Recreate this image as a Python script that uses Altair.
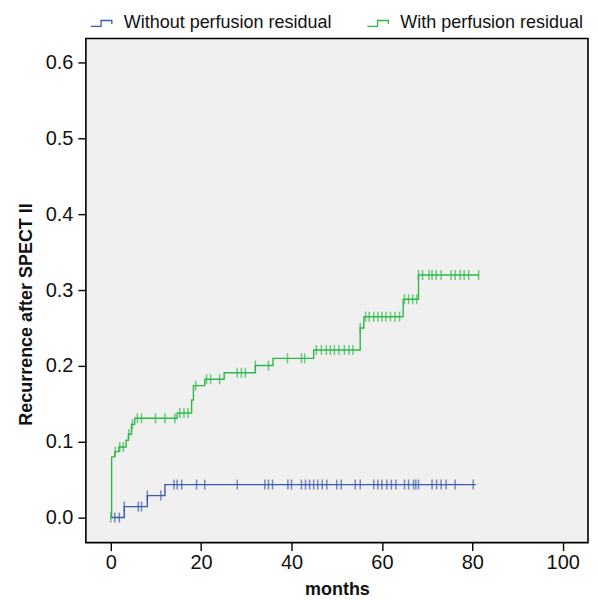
import altair as alt
import pandas as pd

series_names = ["Without perfusion residual", "With perfusion residual"]
series_colors = ["#3E58AC", "#2EB848"]

# Without perfusion residual (blue)
blue_step_t = [3.0, 8.1, 12.0]
blue_step_v = [0.0145, 0.029, 0.0435]
blue_end_t = 80.8
blue_censor_t = [0.9, 1.9, 3.0, 6.1, 6.8, 8.1, 11.1, 14.0, 14.7, 15.7, 19.0, 20.8, 28.0,
                 34.1, 34.9, 35.8, 39.2, 40.0, 42.2, 43.1, 44.0, 44.9, 45.8, 46.8, 47.8,
                 50.0, 51.0, 54.1, 55.2, 58.2, 59.1, 60.0, 61.1, 62.1, 63.1, 65.0, 65.9,
                 67.0, 67.5, 68.1, 71.1, 72.1, 73.1, 74.2, 76.2, 80.2]

# With perfusion residual (green)
green_step_t = [0.2, 0.9, 1.8, 3.4, 3.9, 4.6, 5.3, 14.7, 17.9, 18.3, 20.8, 25.1, 32.0,
                35.9, 44.9, 55.2, 56.0, 64.7, 68.1]
green_step_v = [0.080, 0.087, 0.093, 0.102, 0.110, 0.123, 0.131, 0.138, 0.155, 0.174,
                0.1825, 0.191, 0.2005, 0.210, 0.221, 0.250, 0.265, 0.288, 0.320]
green_end_t = 81.5
green_censor_t = [0.0, 1.0, 2.0, 2.8, 4.0, 4.8, 5.9, 6.8, 9.9, 12.0, 14.2, 15.3, 16.2, 17.1,
                  18.8, 21.2, 22.1, 24.1, 28.0, 28.9, 29.8, 32.0, 34.9, 39.1, 42.2, 42.9,
                  45.5, 46.6, 47.7, 48.6, 49.5, 50.5, 51.7, 52.7, 53.6, 55.2, 56.4, 57.2,
                  58.2, 59.1, 60.0, 60.9, 61.9, 62.9, 63.9, 65.0, 65.9, 66.8, 67.7, 68.1,
                  69.0, 70.4, 71.1, 72.0, 73.1, 75.3, 76.2, 77.3, 78.2, 79.2, 81.4]

x_ticks = [0, 20, 40, 60, 80, 100]
y_ticks = [0.0, 0.1, 0.2, 0.3, 0.4, 0.5, 0.6]


def curve_rows(name, ts, vs, end_t):
    rows = [{"series": name, "t": 0.0, "v": 0.0}]
    for t, v in zip(ts, vs):
        rows.append({"series": name, "t": t, "v": v})
    rows.append({"series": name, "t": end_t, "v": vs[-1]})
    return rows


def censor_rows(name, ts, vs, cts):
    rows = []
    for c in cts:
        val = 0.0
        for t, v in zip(ts, vs):
            if t <= c:
                val = v
        rows.append({"series": name, "t": c, "v": val})
    return rows


lines = pd.DataFrame(
    curve_rows(series_names[0], blue_step_t, blue_step_v, blue_end_t)
    + curve_rows(series_names[1], green_step_t, green_step_v, green_end_t)
)
censors = pd.DataFrame(
    censor_rows(series_names[0], blue_step_t, blue_step_v, blue_censor_t)
    + censor_rows(series_names[1], green_step_t, green_step_v, green_censor_t)
)

FONT = "Liberation Sans"

legend_symbol = ("M-1,0.25 L-0.15,0.25 L-0.15,-0.25 L0.75,-0.25 L0.75,0.05 "
                 "L0.75,-0.25 L-0.15,-0.25 L-0.15,0.25 Z")

x_enc = alt.X("t:Q", scale=alt.Scale(domain=[-5.5, 105.6], nice=False, zero=False),
              axis=alt.Axis(values=x_ticks, title="months", format="d", labelPadding=2,
                            titlePadding=8))
y_enc = alt.Y("v:Q", scale=alt.Scale(domain=[-0.033, 0.632], nice=False, zero=False),
              axis=alt.Axis(values=y_ticks, title="Recurrence after SPECT II", format=".1f",
                            labelPadding=5, titlePadding=10, titleY=276))
color_enc = alt.Color("series:N",
                      scale=alt.Scale(domain=series_names, range=series_colors),
                      legend=alt.Legend(title=None, orient="none", direction="horizontal",
                                        legendX=4, legendY=-28,
                                        symbolType=legend_symbol,
                                        symbolSize=576, symbolStrokeWidth=1.3,
                                        symbolFillColor="transparent",
                                        labelFont=FONT, labelFontSize=18, labelColor="#111111",
                                        labelLimit=400, labelOffset=8, columnPadding=32))

line_layer = alt.Chart(lines).mark_line(interpolate="step-after", strokeWidth=1.4).encode(
    x=x_enc, y=y_enc, color=color_enc, order=alt.Order("t:Q"))

tick_layer = alt.Chart(censors).mark_tick(orient="vertical", size=10, thickness=1.5).encode(
    x="t:Q", y="v:Q",
    color=alt.Color("series:N", scale=alt.Scale(domain=series_names, range=series_colors),
                    legend=None))

chart = alt.layer(line_layer, tick_layer).properties(
    width=503, height=505,
    autosize=alt.AutoSizeParams(type="none"),
    padding={"left": 78, "top": 30, "right": 2, "bottom": 56},
    background="white",
).configure_view(
    fill="#F0F0F0", stroke="#000000", strokeWidth=1.6
).configure_axis(
    domain=False, grid=False,
    tickColor="#000000", tickSize=8, tickWidth=1.4,
    labelFont=FONT, labelFontSize=20, labelColor="#111111",
    titleFont=FONT, titleFontSize=18, titleFontWeight="bold", titleColor="#111111",
)

chart.save("out.html", embed_options={"renderer": "svg", "actions": False})
